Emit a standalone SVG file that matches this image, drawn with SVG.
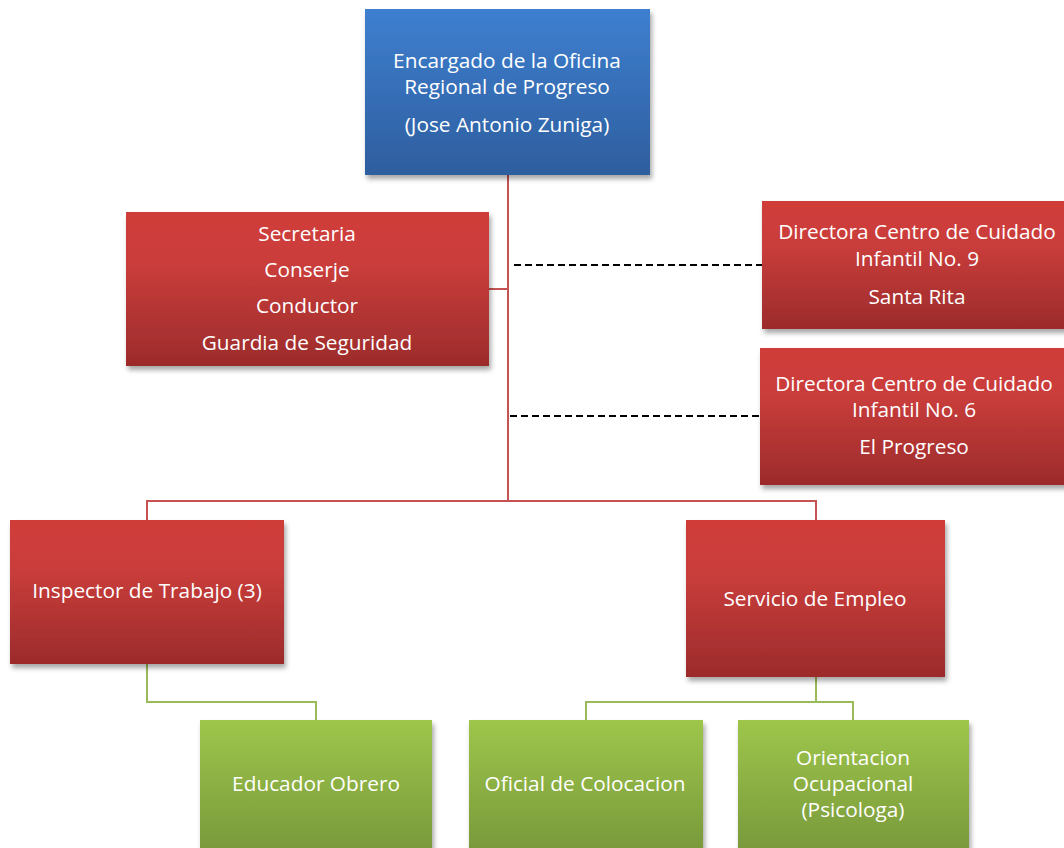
<svg xmlns="http://www.w3.org/2000/svg" width="1064" height="848" viewBox="0 0 1064 848">
<defs>
<linearGradient id="gBlue" x1="0" y1="0" x2="0" y2="1"><stop offset="0" stop-color="#3e7fd0"/><stop offset="1" stop-color="#2e5e9e"/></linearGradient>
<linearGradient id="gRed" x1="0" y1="0" x2="0" y2="1"><stop offset="0" stop-color="#d03c39"/><stop offset="0.35" stop-color="#c93d3b"/><stop offset="1" stop-color="#9c2b2b"/></linearGradient>
<linearGradient id="gGreen" x1="0" y1="0" x2="0" y2="1"><stop offset="0" stop-color="#9ec64b"/><stop offset="1" stop-color="#76963a"/></linearGradient>
<filter id="sh" x="-10%" y="-10%" width="125%" height="130%"><feDropShadow dx="2" dy="4" stdDeviation="2.5" flood-color="#000" flood-opacity="0.35"/></filter>
</defs>
<style>
.t{font-family:"Open Sans","Liberation Sans",sans-serif;font-size:20.8px;fill:#ffffff;text-anchor:middle}
.red{stroke:#c65354;stroke-width:2;fill:none}
.grn{stroke:#9bbb59;stroke-width:2;fill:none}
.dash{stroke:#000;stroke-width:1.8;stroke-dasharray:7 4;fill:none}
</style>
<rect width="1064" height="848" fill="#ffffff"/>
<g id="connectors">
<path class="red" d="M508 175 V501"/>
<path class="red" d="M489 289 H508"/>
<path class="red" d="M147 520 V501 H816 V520"/>
<path class="dash" d="M514 265 H762"/>
<path class="dash" d="M510 416 H760"/>
<path class="grn" d="M147 664 V702 H316 V720"/>
<path class="grn" d="M816 677 V702"/>
<path class="grn" d="M586 720 V702 H853 V720"/>
</g>
<g id="n-encargado">
<rect x="365" y="9" width="285" height="166" fill="url(#gBlue)" filter="url(#sh)"/>
<text class="t" x="507" y="68">Encargado de la Oficina</text>
<text class="t" x="507" y="94">Regional de Progreso</text>
<text class="t" x="507" y="132">(Jose Antonio Zuniga)</text>
</g>
<g id="n-secretaria">
<rect x="126" y="212" width="363" height="154" fill="url(#gRed)" filter="url(#sh)"/>
<text class="t" x="307" y="241">Secretaria</text>
<text class="t" x="307" y="277">Conserje</text>
<text class="t" x="307" y="313">Conductor</text>
<text class="t" x="307" y="350">Guardia de Seguridad</text>
</g>
<g id="n-directora9">
<rect x="762" y="201" width="305" height="128" fill="url(#gRed)" filter="url(#sh)"/>
<text class="t" x="917" y="239">Directora Centro de Cuidado</text>
<text class="t" x="917" y="266">Infantil No. 9</text>
<text class="t" x="917" y="304">Santa Rita</text>
</g>
<g id="n-directora6">
<rect x="760" y="348" width="307" height="137" fill="url(#gRed)" filter="url(#sh)"/>
<text class="t" x="914" y="391">Directora Centro de Cuidado</text>
<text class="t" x="914" y="417">Infantil No. 6</text>
<text class="t" x="914" y="454">El Progreso</text>
</g>
<g id="n-inspector">
<rect x="10" y="520" width="274" height="144" fill="url(#gRed)" filter="url(#sh)"/>
<text class="t" x="147" y="598">Inspector de Trabajo (3)</text>
</g>
<g id="n-servicio">
<rect x="686" y="520" width="259" height="157" fill="url(#gRed)" filter="url(#sh)"/>
<text class="t" x="815" y="606">Servicio de Empleo</text>
</g>
<g id="n-educador">
<rect x="200" y="720" width="232" height="140" fill="url(#gGreen)" filter="url(#sh)"/>
<text class="t" x="316" y="791">Educador Obrero</text>
</g>
<g id="n-oficial">
<rect x="469" y="720" width="234" height="140" fill="url(#gGreen)" filter="url(#sh)"/>
<text class="t" x="585" y="791">Oficial de Colocacion</text>
</g>
<g id="n-orientacion">
<rect x="738" y="720" width="231" height="140" fill="url(#gGreen)" filter="url(#sh)"/>
<text class="t" x="853" y="765">Orientacion</text>
<text class="t" x="853" y="791">Ocupacional</text>
<text class="t" x="853" y="817">(Psicologa)</text>
</g>
</svg>
